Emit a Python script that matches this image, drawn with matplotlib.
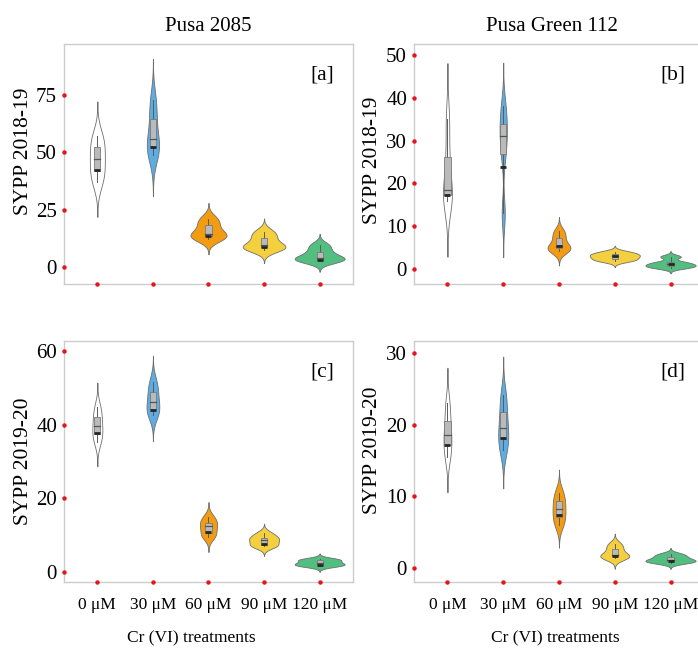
import numpy as np
import matplotlib
matplotlib.use('Agg')
import matplotlib.pyplot as plt

plt.rcParams['font.family'] = ['Liberation Serif', 'DejaVu Serif']

treatments = ['0 μM', '30 μM', '60 μM', '90 μM', '120 μM']
colors = ['#ffffff', '#5dade2', '#f39c12', '#f4d03f', '#52be80']

# replicate values per treatment
a_values = [[37, 42, 47, 52.4, 57],
            [48.8, 52.1, 55.6, 64.4, 72.8],
            [12.4, 13.5, 14.6, 18.2, 21.1],
            [7.6, 8.7, 9.5, 12.7, 15.3],
            [2.9, 3.2, 4.1, 6.6, 9.5]]
b_values = [[16, 17.3, 18.5, 26.3, 35],
            [13, 27, 31, 34, 38],
            [4.2, 4.9, 5.3, 7.2, 8.8],
            [1.9, 2.4, 3.0, 3.4, 4.0],
            [0.3, 0.7, 1.1, 1.6, 2.9]]
c_values = [[35.4, 37.5, 39.6, 42.1, 44.7],
            [42.6, 44, 46.2, 48.9, 51.6],
            [9.5, 10.6, 12.4, 13.4, 14.9],
            [7.0, 7.4, 8.8, 9.2, 10.5],
            [1.6, 2.0, 2.4, 3.2, 3.5]]
d_values = [[15.5, 17.1, 18.6, 20.5, 23],
            [16.5, 18, 19.5, 21.7, 24.1],
            [6.0, 7.1, 8.2, 9.3, 10.5],
            [1.3, 1.6, 1.8, 2.6, 3.3],
            [0.7, 0.9, 1.1, 1.5, 1.9]]

# dark point marks inside the boxes
a_points = [42.2, 52.4, 13.5, 8.7, 3.2]
b_points = [17.3, 23.8, 5.3, 3.0, 1.2]
c_points = [37.8, 44.1, 10.8, 7.7, 2.0]
d_points = [17.1, 18.1, 7.3, 1.7, 0.9]

# max violin widths (category units)
a_widths = [0.27, 0.22, 0.65, 0.77, 0.9]
b_widths = [0.16, 0.13, 0.41, 0.9, 0.9]
c_widths = [0.18, 0.23, 0.31, 0.54, 0.9]
d_widths = [0.14, 0.18, 0.23, 0.52, 0.9]


def kde(values):
    v = np.asarray(values, dtype=float)
    q1, q3 = np.percentile(v, [25, 75])
    bw = 0.9 * min(v.std(ddof=1), (q3 - q1) / 1.34) * len(v) ** -0.2
    y = np.linspace(v.min() - 3 * bw, v.max() + 3 * bw, 400)
    d = np.exp(-0.5 * ((y[:, None] - v[None, :]) / bw) ** 2).sum(axis=1)
    return y, d / d.max()


def draw_panel(ax, values, points, widths, ylim, yticks, label):
    for i, vals in enumerate(values):
        y, d = kde(vals)
        half = d * widths[i] / 2
        ax.fill_betweenx(y, i - half, i + half, facecolor=colors[i],
                         edgecolor='#6e6e6e', linewidth=0.6, zorder=2)
        lo, q1, med, q3, hi = np.percentile(vals, [0, 25, 50, 75, 100])
        ax.plot([i, i], [lo, hi], color='#5a5a5a', lw=0.7, zorder=3)
        ax.bar(i, q3 - q1, bottom=q1, width=0.11, color='#bababa',
               edgecolor='#7a7a7a', linewidth=0.6, zorder=4)
        ax.plot([i - 0.055, i + 0.055], [med, med], color='#555555', lw=0.9,
                zorder=5)
        ax.plot(i, points[i], marker='_', color='#262626', markersize=4.5,
                mew=2.0, zorder=6)

    ax.set_xlim(-0.6, 4.6)
    ax.set_ylim(*ylim)
    ax.set_xticks(range(len(treatments)))
    ax.set_yticks(yticks)
    for s in ax.spines.values():
        s.set_color('#cccccc')
        s.set_linewidth(1.0)
    ax.tick_params(axis='y', length=0, labelsize=15, pad=5)
    ax.tick_params(axis='x', length=0, labelsize=12.5, pad=11)

    # red dots in place of tick marks
    ax.plot(np.zeros(len(yticks)), yticks, 'o', color='#e8141c', markersize=3.2,
            mew=0, transform=ax.get_yaxis_transform(), clip_on=False, zorder=7)
    ax.plot(range(len(treatments)), np.zeros(len(treatments)), 'o',
            color='#e8141c', markersize=3.2, mew=0,
            transform=ax.get_xaxis_transform(), clip_on=False, zorder=7)

    ax.text(0.893, 0.87, label, transform=ax.transAxes, fontsize=15.5,
            ha='center', va='center')


fig = plt.figure(figsize=(6.98, 6.48), dpi=100)
ax_a = fig.add_axes([0.0917, 0.5617, 0.414, 0.3704])
ax_b = fig.add_axes([0.5931, 0.5617, 0.4155, 0.3704])
ax_c = fig.add_axes([0.0917, 0.1019, 0.414, 0.3719])
ax_d = fig.add_axes([0.5931, 0.1019, 0.4155, 0.3719])

draw_panel(ax_a, a_values, a_points, a_widths, (-7.4, 97.2), [0, 25, 50, 75], '[a]')
draw_panel(ax_b, b_values, b_points, b_widths, (-3.5, 52.6), [0, 10, 20, 30, 40, 50], '[b]')
draw_panel(ax_c, c_values, c_points, c_widths, (-2.7, 62.7), [0, 20, 40, 60], '[c]')
draw_panel(ax_d, d_values, d_points, d_widths, (-2.0, 31.7), [0, 10, 20, 30], '[d]')

ax_a.set_title('Pusa 2085', fontsize=15, pad=9)
ax_b.set_title('Pusa Green 112', fontsize=15, pad=9, x=0.476)

for ax in (ax_a, ax_b):
    ax.set_xticklabels([])
for ax in (ax_c, ax_d):
    ax.set_xticklabels(treatments)
    ax.set_xlabel('Cr (VI) treatments', fontsize=12.5, va='top')

ax_a.set_ylabel('SYPP 2018-19', fontsize=15.5)
ax_b.set_ylabel('SYPP 2018-19', fontsize=15.5)
ax_c.set_ylabel('SYPP 2019-20', fontsize=15.5)
ax_d.set_ylabel('SYPP 2019-20', fontsize=15.5)
ax_a.yaxis.set_label_coords(-0.108, 0.554)
ax_b.yaxis.set_label_coords(-0.11, 0.517)
ax_c.yaxis.set_label_coords(-0.108, 0.50)
ax_d.yaxis.set_label_coords(-0.11, 0.548)
ax_c.xaxis.set_label_coords(0.44, -0.2)
ax_d.xaxis.set_label_coords(0.486, -0.2)

fig.savefig('out.png', dpi=100)
